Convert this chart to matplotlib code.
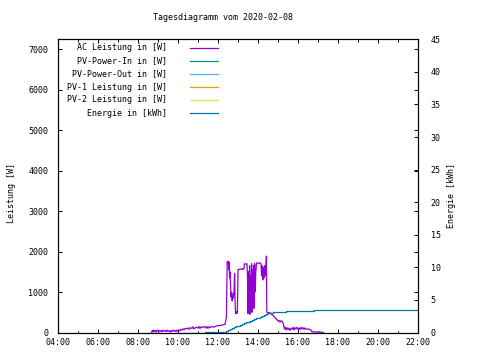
import matplotlib
matplotlib.use("Agg")
import matplotlib.pyplot as plt
from matplotlib.ticker import MultipleLocator

# ---------------- data ----------------
title = "Tagesdiagramm vom 2020-02-08"
xtick_hours = [4, 6, 8, 10, 12, 14, 16, 18, 20, 22]
xtick_labels = ["04:00", "06:00", "08:00", "10:00", "12:00", "14:00",
                "16:00", "18:00", "20:00", "22:00"]

ac_time = [8.68, 8.72, 8.75, 8.78, 8.82, 8.85, 8.90, 8.95, 9.00, 9.05, 9.10, 9.15,
           9.20, 9.25, 9.30, 9.35, 9.40, 9.45, 9.50, 9.55, 9.60, 9.65, 9.70, 9.75,
           9.80, 9.85, 9.90, 9.95, 10.00, 10.05, 10.10, 10.15, 10.20, 10.25, 10.30,
           10.35, 10.40, 10.50, 10.55, 10.60, 10.70, 10.75, 10.80, 10.90, 11.00,
           11.05, 11.10, 11.15, 11.20, 11.30, 11.40, 11.45, 11.50, 11.55, 11.60,
           11.70, 11.80, 11.90, 12.00, 12.10, 12.20, 12.30, 12.35, 12.42, 12.46,
           12.50, 12.52, 12.54, 12.56, 12.58, 12.60, 12.62, 12.65, 12.68, 12.71,
           12.74, 12.77, 12.80, 12.83, 12.86, 12.88, 12.91, 12.94, 12.97, 13.00,
           13.05, 13.10, 13.15, 13.20, 13.25, 13.30, 13.32, 13.38, 13.45, 13.48,
           13.50, 13.53, 13.55, 13.58, 13.60, 13.63, 13.65, 13.68, 13.70, 13.73,
           13.75, 13.78, 13.80, 13.83, 13.86, 13.89, 13.93, 14.00, 14.05, 14.10,
           14.15, 14.18, 14.21, 14.24, 14.27, 14.30, 14.33, 14.36, 14.39, 14.42,
           14.44, 14.47, 14.50, 14.55, 14.60, 14.70, 14.80, 14.90, 14.95, 15.00,
           15.05, 15.10, 15.15, 15.20, 15.27, 15.32, 15.36, 15.40, 15.45, 15.50,
           15.55, 15.60, 15.65, 15.70, 15.75, 15.80, 15.85, 15.90, 15.95, 16.00,
           16.05, 16.10, 16.15, 16.20, 16.25, 16.30, 16.35, 16.40, 16.50, 16.60,
           16.65, 16.70, 16.75, 16.80, 16.90, 17.00, 17.10, 17.20, 17.27]
ac_power = [0, 50, 15, 60, 25, 55, 10, 60, 30, 55, 20, 50,
            15, 60, 30, 50, 20, 60, 25, 45, 10, 50, 25, 60,
            30, 55, 20, 60, 30, 60, 40, 80, 60, 90, 70,
            100, 90, 110, 80, 120, 100, 140, 90, 130, 110,
            150, 100, 140, 120, 150, 110, 150, 100, 140, 120,
            150, 130, 160, 170, 175, 180, 200, 200, 380, 1750,
            1700, 1760, 1550, 1740, 1350, 1500, 1250, 880, 1000, 780,
            950, 850, 1000, 1460, 700, 470, 520, 470, 500, 1560,
            1560, 1570, 1560, 1580, 1560, 1580, 1700, 1690, 1700, 1300,
            470, 1500, 650, 1650, 450, 1400, 900, 1700, 500, 1550,
            800, 1650, 600, 1700, 1000, 1500, 1720, 1720, 1710, 1720,
            1700, 1400, 1650, 1300, 1600, 1350, 1650, 1400, 1500, 1890,
            500, 490, 480, 500, 490, 440, 400, 340, 320, 280,
            300, 255, 290, 280, 215, 90, 130, 60, 120, 70,
            110, 50, 100, 80, 130, 60, 120, 90, 130, 80,
            110, 70, 130, 90, 120, 80, 115, 80, 90, 70,
            60, 15, 25, 10, 15, 10, 15, 5, 0]

energy_time = [10.25, 11.35, 11.36, 12.30, 12.40, 12.50, 12.60, 12.70, 12.80,
               12.90, 13.00, 13.10, 13.20, 13.30, 13.40, 13.50, 13.60, 13.70,
               13.80, 13.90, 14.00, 14.10, 14.20, 14.30, 14.40, 14.50, 14.60,
               14.75, 14.85, 15.42, 16.82, 22.00]
energy_kwh = [0.0, 0.03, 0.15, 0.15, 0.30, 0.40, 0.55, 0.65, 0.80,
              0.95, 1.05, 1.20, 1.30, 1.45, 1.55, 1.65, 1.75, 1.85,
              2.00, 2.15, 2.30, 2.45, 2.60, 2.75, 2.90, 3.00, 3.05,
              3.15, 3.20, 3.30, 3.50, 3.50]

pv_in_time, pv_in_power = [], []
pv_out_time, pv_out_power = [], []
pv1_time, pv1_power = [], []
pv2_time, pv2_power = [], []

# ---------------- style ----------------
FONT = "DejaVu Sans Mono"
FS = 6
plt.rcParams["font.family"] = [FONT]
plt.rcParams["font.size"] = FS

W, H = 480, 360
fig = plt.figure(figsize=(W / 100, H / 100), dpi=100)
ax = fig.add_axes([58 / W, 1 - 332.5 / H, 360 / W, (332.5 - 39.3) / H])
ax2 = ax.twinx()

lw = 0.9
h_ac, = ax.plot(ac_time, ac_power, color="#9400d3", lw=lw, label="AC Leistung in [W]")
h_in, = ax.plot(pv_in_time, pv_in_power, color="#009e73", lw=lw, label="PV-Power-In in [W]")
h_out, = ax.plot(pv_out_time, pv_out_power, color="#56b4e9", lw=lw, label="PV-Power-Out in [W]")
h_p1, = ax.plot(pv1_time, pv1_power, color="#e69f00", lw=lw, label="PV-1 Leistung in [W]")
h_p2, = ax.plot(pv2_time, pv2_power, color="#f0e442", lw=lw, label="PV-2 Leistung in [W]")
h_en, = ax2.plot(energy_time, energy_kwh, color="#0072b2", lw=lw,
                 drawstyle="steps-post", label="Energie in [kWh]")

ax.set_xlim(4, 22)
ax.set_ylim(0, 7250)
ax2.set_ylim(0, 45)

ax.set_xticks(xtick_hours)
ax.set_xticklabels(xtick_labels)
ax.xaxis.set_minor_locator(MultipleLocator(1))
ax.yaxis.set_major_locator(MultipleLocator(1000))
ax2.yaxis.set_major_locator(MultipleLocator(5))

ax.tick_params(axis="both", which="major", direction="in", length=3, width=0.7,
               top=True, right=True, pad=4, labelsize=FS)
ax.tick_params(axis="x", which="minor", direction="in", length=1.8, width=0.7, top=True)
ax.tick_params(axis="y", which="major", pad=7)
ax2.tick_params(axis="y", which="major", direction="in", length=3, width=0.7,
                pad=9, labelsize=FS)

for a in (ax, ax2):
    for s in a.spines.values():
        s.set_linewidth(0.8)

fig.text(12 / W, 1 - 193 / H, "Leistung [W]", rotation=90, ha="center", va="center")
fig.text(452 / W, 1 - 195 / H, "Energie [kWh]", rotation=90, ha="center", va="center")
fig.text(223 / W, 1 - 18 / H, title, ha="center", va="center")

handles = [h_ac, h_in, h_out, h_p1, h_p2, h_en]
leg = ax.legend(handles, [h.get_label() for h in handles], markerfirst=False,
                frameon=False, loc="upper right",
                bbox_to_anchor=(218 / W, 1 - 43.5 / H), bbox_transform=fig.transFigure,
                borderpad=0, borderaxespad=0, handlelength=3.4, handletextpad=2.7,
                labelspacing=0.48, fontsize=FS)

fig.savefig("out.png", dpi=100)
